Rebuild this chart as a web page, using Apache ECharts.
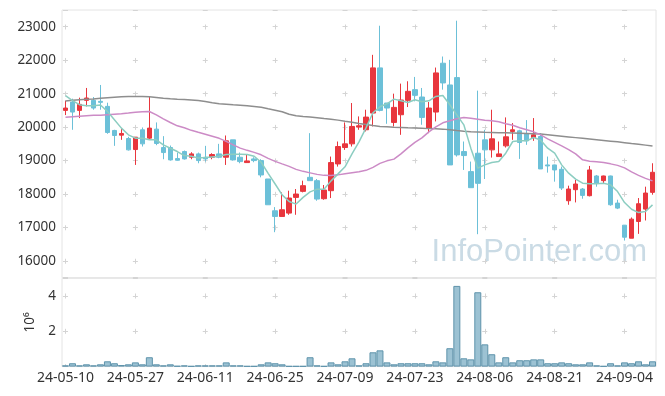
<!DOCTYPE html>
<html><head><meta charset="utf-8">
<script src="https://cdn.jsdelivr.net/npm/echarts@6/dist/echarts.min.js"></script>
<style>html,body{margin:0;padding:0;background:#fff}#c{width:665px;height:396px}</style>
</head><body><div id="c"></div>
<script>
const dates = ['24-05-10','24-05-13','24-05-14','24-05-16','24-05-17','24-05-20','24-05-21','24-05-22','24-05-23','24-05-24','24-05-27','24-05-28','24-05-29','24-05-30','24-05-31',
'24-06-03','24-06-04','24-06-05','24-06-07','24-06-10','24-06-11','24-06-12','24-06-13','24-06-14','24-06-17','24-06-18','24-06-19','24-06-20','24-06-21','24-06-24','24-06-25','24-06-26','24-06-27','24-06-28',
'24-07-01','24-07-02','24-07-03','24-07-04','24-07-05','24-07-08','24-07-09','24-07-10','24-07-11','24-07-12','24-07-15','24-07-16','24-07-17','24-07-18','24-07-19','24-07-22','24-07-23','24-07-24','24-07-25','24-07-26','24-07-29','24-07-30','24-07-31',
'24-08-01','24-08-02','24-08-05','24-08-06','24-08-07','24-08-08','24-08-09','24-08-12','24-08-13','24-08-14','24-08-16','24-08-19','24-08-20','24-08-21','24-08-22','24-08-23','24-08-26','24-08-27','24-08-28','24-08-29','24-08-30',
'24-09-02','24-09-03','24-09-04','24-09-05','24-09-06','24-09-09','24-09-10'];

const opens  = [20500,20750,20500,20800,20800,20770,20620,19900,19760,19660,19330,19920,19670,19940,19390,19390,19060,19270,19100,19200,19100,19100,19200,19100,19620,19100,18940,19050,19000,18450,17500,17330,17430,17900,18080,18500,18400,17860,18100,18900,19390,19500,20000,19920,20420,21770,20720,20140,20370,20800,21120,20900,19970,20450,21910,21260,21480,19270,18670,19220,19620,19320,19120,19440,19870,19890,19800,19690,19720,18870,18870,18740,17800,18130,18150,17950,18540,18400,18540,17730,17070,16680,17180,17550,18050];
const closes = [20570,20450,20680,20870,20570,20740,19840,19750,19810,19320,19700,19500,19970,19510,19240,19020,19010,19050,19200,19000,19050,19180,19100,19590,19020,18970,18990,19000,18570,17680,17330,17530,17880,18000,18250,18400,17850,18120,18940,19420,19500,20020,20040,20300,21770,20500,20570,20590,20810,21070,20950,20290,20570,21620,21320,18870,19170,19150,18190,18320,19320,19650,19200,19710,19920,19540,19590,19770,18750,18840,18720,18180,18150,18300,17960,18720,18330,18540,17680,17580,16710,17250,17710,18030,18650];
const lows   = [20360,19920,20270,20620,20520,20520,19800,19440,19620,19300,18870,19420,19620,19460,19040,19000,19000,19030,19040,18920,18970,19040,19070,18870,19000,18920,18940,18950,18500,17680,16860,17330,17380,17380,18050,18400,17800,17830,17880,18820,19320,19420,19920,19870,20020,20470,20100,20020,19770,20600,20770,20070,19820,20170,21120,18870,19120,18720,18190,16800,18450,19090,19120,19390,19620,19050,19470,19590,18750,18640,18370,18120,17680,17750,17860,17930,18220,18330,17650,17550,16610,16680,16810,17210,17980];
const highs  = [20790,20850,20880,21170,20900,21260,20730,19920,19940,19710,19700,19990,20900,20140,19730,19450,19240,19300,19250,19240,19440,19220,19500,19750,19620,19240,19170,19100,19040,18450,17610,18050,18100,18150,18400,19820,18450,18270,19120,19570,20140,20720,20320,20520,22160,23030,20720,21000,21300,21370,21500,21170,20750,21780,22110,22010,23180,19570,18970,21090,19920,20520,19570,20290,20120,19920,20210,20270,19820,19120,18880,18820,18250,18420,18180,18840,18570,18550,18550,17830,17070,17300,17880,18220,18920];
const volumes = [70000,190000,70000,130000,70000,130000,300000,190000,90000,130000,
240000,130000,530000,130000,70000,130000,40000,70000,30000,70000,
70000,70000,70000,240000,70000,70000,30000,30000,130000,240000,
190000,130000,30000,30000,30000,530000,70000,30000,240000,130000,
300000,470000,70000,190000,810000,920000,240000,130000,190000,190000,
190000,190000,130000,300000,240000,1040000,4570000,470000,410000,4210000,
1260000,700000,240000,530000,240000,360000,360000,410000,410000,190000,
190000,240000,190000,130000,130000,240000,70000,30000,190000,70000,
240000,190000,300000,130000,300000];
const ma5 = [20940,20790,20670,20640,20640,20660,20470,20220,19970,19770,19670,19670,19620,19620,19470,19370,19270,19150,19130,19080,19090,19110,19130,19180,19190,19190,19180,19130,18950,18620,18300,17975,17775,17700,17900,18065,18146,18146,18394,18603,18813,19201,19560,19979,20428,20607,20697,20837,20787,20736,20817,20757,20787,20916,20946,20667,20368,20069,19372,18774,18872,18941,18971,19222,19570,19590,19590,19690,19610,19372,19222,18872,18624,18445,18325,18304,18304,18325,18274,18075,17745,17547,17446,17476,17676];
const ma20 = [20293,20308,20323,20338,20353,20353,20368,20383,20398,20419,20443,20458,20467,20368,20248,20138,20039,19979,19904,19844,19785,19725,19665,19575,19471,19372,19306,19246,19172,19067,18977,18902,18828,18738,18678,18633,18588,18558,18552,18573,18603,18633,18663,18708,18798,18917,18992,19043,19201,19381,19545,19680,19859,20009,20129,20188,20248,20287,20263,20233,20203,20188,20159,20099,20054,19979,19919,19859,19770,19650,19545,19441,19330,19201,19022,18983,18962,18941,18902,18857,18783,18663,18558,18469,18394];
const ma60 = [20778,20802,20817,20832,20841,20861,20876,20891,20906,20915,20915,20915,20906,20885,20861,20846,20832,20822,20808,20793,20763,20727,20697,20682,20667,20655,20637,20616,20592,20547,20503,20458,20383,20338,20317,20302,20278,20254,20233,20209,20174,20144,20105,20075,20045,20021,20009,19997,19988,19979,19973,19964,19955,19949,19940,19919,19898,19880,19865,19856,19847,19841,19835,19830,19824,19818,19812,19803,19791,19770,19749,19728,19707,19686,19665,19644,19623,19602,19581,19560,19536,19512,19489,19462,19435];

const priceMin = 15500, priceMax = 23500, priceStep = 1000;
const volMax = 5000000, volStep = 2000000;
const labelEvery = 10;

const ohlc = dates.map((d, i) => [opens[i], closes[i], lows[i], highs[i]]);

const textColor = '#333';
const crossColor = '#d4d4d4';
const font = 'Noto Sans';
const chart = echarts.init(document.getElementById('c'), null, {renderer: 'canvas'});

const bandW = 594 / dates.length;
const hPeriod = bandW * labelEvery;
const priceStepPx = 267.7 / ((priceMax - priceMin) / priceStep);
const volStepPx = 88.3 / (volMax / volStep);

chart.setOption({
  animation: false,
  backgroundColor: '#fff',
  grid: [
    {left: 62, right: 9, top: 10, height: 267.7, show: true, borderColor: '#e4e4e4', borderWidth: 1},
    {left: 62, right: 9, top: 278.3, height: 88.3, show: true, borderColor: '#e4e4e4', borderWidth: 1}
  ],
  xAxis: [
    {type: 'category', gridIndex: 0, data: dates, boundaryGap: true,
     axisLine: {show: false}, axisTick: {show: false}, axisLabel: {show: false},
     splitLine: {show: true, interval: labelEvery - 1, alignWithLabel: true,
       lineStyle: {color: crossColor, width: 1, type: [5, priceStepPx - 5], dashOffset: priceStepPx - 14.5}}},
    {type: 'category', gridIndex: 1, data: dates, boundaryGap: true,
     axisLine: {show: false}, axisTick: {show: false},
     axisLabel: {interval: labelEvery - 1, color: textColor, fontSize: 14, fontFamily: font, margin: 4},
     splitLine: {show: true, interval: labelEvery - 1, alignWithLabel: true,
       lineStyle: {color: crossColor, width: 1, type: [5, volStepPx - 5], dashOffset: volStepPx - 15.2}}}
  ],
  yAxis: [
    {type: 'value', gridIndex: 0, min: priceMin, max: priceMax, minInterval: priceStep, maxInterval: priceStep, splitNumber: 8,
     axisLine: {show: false}, axisTick: {show: false},
     axisLabel: {color: textColor, fontSize: 13.5, fontFamily: font, margin: 6, showMinLabel: false, showMaxLabel: false,
       formatter: v => String(v)},
     splitLine: {show: true, lineStyle: {color: crossColor, width: 1, type: [5, hPeriod - 5], dashOffset: hPeriod - 1}}},
    {type: 'value', gridIndex: 1, min: 0, max: volMax, interval: volStep,
     name: '10\u2076', nameLocation: 'middle', nameGap: 22, nameRotate: 90,
     nameTextStyle: {color: textColor, fontSize: 13.5, fontFamily: font},
     axisLine: {show: false}, axisTick: {show: false},
     axisLabel: {color: textColor, fontSize: 13.5, fontFamily: font, margin: 6, showMaxLabel: false,
       formatter: v => v === 0 ? '' : String(v / 1e6)},
     splitLine: {show: true, lineStyle: {color: crossColor, width: 1, type: [5, hPeriod - 5], dashOffset: hPeriod - 1}}}
  ],
  graphic: [{
    type: 'text', right: 18, top: 237, z: 0, silent: true,
    style: {text: 'InfoPointer.com', font: '31px "Liberation Sans"', fill: '#cadbe5'}
  }],
  series: [
    {type: 'candlestick', xAxisIndex: 0, yAxisIndex: 0, data: ohlc, barWidth: 5,
     itemStyle: {color: '#e8363d', color0: '#6cc0d8', borderColor: '#e8363d', borderColor0: '#6cc0d8', borderWidth: 1}},
    {type: 'line', xAxisIndex: 0, yAxisIndex: 0, data: ma60, showSymbol: false, symbol: 'none',
     lineStyle: {color: '#8e8e8e', width: 1.5}},
    {type: 'line', xAxisIndex: 0, yAxisIndex: 0, data: ma20, showSymbol: false, symbol: 'none',
     lineStyle: {color: '#cc8bc6', width: 1.5}},
    {type: 'line', xAxisIndex: 0, yAxisIndex: 0, data: ma5, showSymbol: false, symbol: 'none',
     lineStyle: {color: '#8ccdc1', width: 1.5}},
    {type: 'bar', xAxisIndex: 1, yAxisIndex: 1, data: volumes, barCategoryGap: '0%',
     itemStyle: {color: '#9cc2d3', borderColor: '#5e93ab', borderWidth: 1}}
  ]
});
</script></body></html>
